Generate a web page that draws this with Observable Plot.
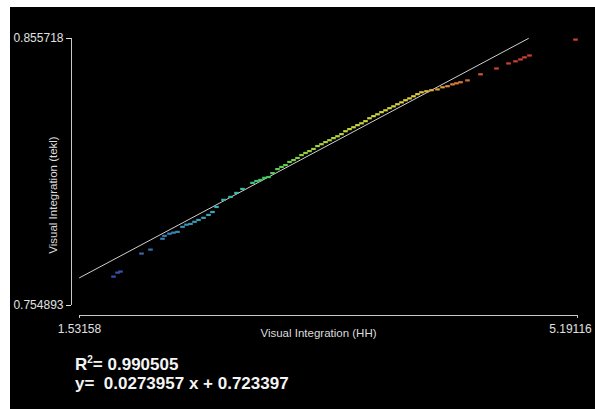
<!DOCTYPE html>
<html>
<head>
<meta charset="utf-8">
<script src="https://cdn.jsdelivr.net/npm/d3@7"></script>
<script src="https://cdn.jsdelivr.net/npm/@observablehq/plot@0.6"></script>
<style>
  html, body { margin: 0; padding: 0; background: #fff; }
  #page { position: relative; width: 595px; height: 409px; overflow: hidden; background: #fff; }
  #bg { position: absolute; left: 10px; top: 7px; right: 0; bottom: 0; background: #000; }
  #chart { position: absolute; left: 0; top: 0; }
  .eq { position: absolute; left: 75px; font-family: "Liberation Sans", Arial, sans-serif; font-size: 17px; line-height: 17px; color: #f4f4f4; font-weight: bold; white-space: pre; }
  .eq sup { font-size: 10px; vertical-align: 0; position: relative; top: -7px; }
</style>
</head>
<body>
<div id="page">
  <div id="bg"></div>
  <div id="chart"></div>
  <div class="eq" id="eq1" style="top:355.6px"></div>
  <div class="eq" id="eq2" style="top:375px"></div>
</div>
<script>
// ---- data ----
const xLabel = "Visual Integration (HH)";
const yLabel = "Visual Integration (tekl)";
const xTicks = [1.53158, 5.19116];
const yTicks = [0.754893, 0.855718];
const slope = 0.0273957;
const intercept = 0.723397;
const r2 = 0.990505;

const xs = [1.7814, 1.8108, 1.8329, 1.9872, 2.0533, 2.1415, 2.1562, 2.1930, 2.2223, 2.2517,
            2.2885, 2.3179, 2.3473, 2.3767, 2.4061, 2.4428, 2.4795, 2.5089, 2.5383, 2.5898,
            2.6412, 2.6853, 2.7294, 2.8029, 2.8323, 2.8617, 2.8911, 2.9205, 2.9498, 2.9866,
            3.0160, 3.0454, 3.0748, 3.1042, 3.1336, 3.1630, 3.1923, 3.2217, 3.2511, 3.2805,
            3.3099, 3.3393, 3.3687, 3.3981, 3.4275, 3.4569, 3.4863, 3.5157, 3.5451, 3.5745,
            3.6039, 3.6332, 3.6626, 3.6920, 3.7214, 3.7508, 3.7802, 3.8096, 3.8390, 3.8684,
            3.8978, 3.9272, 3.9566, 3.9860, 4.0154, 4.0448, 4.0815, 4.1183, 4.1623, 4.1991,
            4.2358, 4.2726, 4.3020, 4.3314, 4.3828, 4.4783, 4.5959, 4.6841, 4.7355, 4.7723,
            4.8017, 4.8384, 5.1764];
const ys = [0.7658, 0.7673, 0.7677, 0.7745, 0.7760, 0.7801, 0.7812, 0.7820, 0.7824, 0.7827,
            0.7846, 0.7854, 0.7857, 0.7865, 0.7872, 0.7880, 0.7891, 0.7902, 0.7921, 0.7948,
            0.7959, 0.7974, 0.7989, 0.8012, 0.8019, 0.8023, 0.8031, 0.8034, 0.8049, 0.8064,
            0.8072, 0.8079, 0.8091, 0.8098, 0.8106, 0.8117, 0.8125, 0.8132, 0.8140, 0.8151,
            0.8158, 0.8166, 0.8173, 0.8181, 0.8188, 0.8196, 0.8207, 0.8215, 0.8222, 0.8230,
            0.8237, 0.8245, 0.8256, 0.8264, 0.8271, 0.8279, 0.8286, 0.8294, 0.8301, 0.8309,
            0.8316, 0.8324, 0.8331, 0.8339, 0.8347, 0.8354, 0.8358, 0.8362, 0.8365, 0.8373,
            0.8377, 0.8384, 0.8388, 0.8392, 0.8399, 0.8422, 0.8444, 0.8463, 0.8471, 0.8478,
            0.8486, 0.8493, 0.8553];

const colorStops = [1.8, 2.3, 2.65, 2.9, 3.15, 3.5, 4.0, 4.25, 4.6];
const colorRange = ["#3550a8", "#3890b8", "#3cb8b0", "#40cc60", "#8cd040", "#c4d63c", "#e0d040", "#dc8636", "#d04030"];

// ---- derived tables ----
const points = xs.map((x, i) => ({x, y: ys[i]}));
const xMin = xTicks[0], xMax = xTicks[1], yMin = yTicks[0], yMax = yTicks[1];
const xEnd = (yMax - intercept) / slope;
const regLine = [xMin, xEnd].map(x => ({x, y: slope * x + intercept}));

// small horizontal dash symbol, like the reference's point marks
const dash = {draw(context) { context.rect(-2.3, -1.1, 4.6, 2.2); }};

const chart = Plot.plot({
  width: 595,
  height: 345,
  marginLeft: 79,
  marginRight: 18,
  marginTop: 38,
  marginBottom: 40,
  style: {background: "transparent", color: "#dcdcdc", fontFamily: "'Liberation Sans', Arial, sans-serif", fontSize: "12px"},
  x: {domain: [xMin, xMax]},
  y: {domain: [yMin, yMax]},
  color: {type: "linear", domain: colorStops, range: colorRange, clamp: true},
  marks: [
    Plot.ruleX([xMin], {y1: yMin, y2: yMax, dx: -8, stroke: "#c8c8c8", strokeWidth: 1}),
    Plot.ruleY([yMin], {x1: xMin, x2: xMax, dy: 10, stroke: "#c8c8c8", strokeWidth: 1}),
    Plot.axisY({ticks: yTicks, tickFormat: d => `${d}`, tickSize: 5, tickPadding: 3, dx: -8, label: null, color: "#e0e0e0", fontSize: 12}),
    Plot.axisX({ticks: xTicks, tickFormat: () => "", tickSize: 3, dy: 10, label: null, color: "#c8c8c8"}),
    Plot.axisX({ticks: [xTicks[0]], tickFormat: d => `${d}`, tickSize: 0, tickPadding: 9, dy: 10, label: null, color: "#e0e0e0", fontSize: 12}),
    Plot.axisX({ticks: [xTicks[1]], tickFormat: d => `${d}`, tickSize: 0, tickPadding: 9, dy: 10, dx: -7, label: null, color: "#e0e0e0", fontSize: 12}),
    Plot.text([yLabel], {text: d => d, frameAnchor: "left", textAnchor: "middle", lineAnchor: "middle", rotate: -90, dx: -26, dy: 23, fill: "#dcdcdc", fontSize: 11.5}),
    Plot.text([xLabel], {text: d => d, frameAnchor: "bottom", textAnchor: "middle", lineAnchor: "middle", dx: -10, dy: 28, fill: "#dcdcdc", fontSize: 11.5}),
    Plot.line(regLine, {x: "x", y: "y", stroke: "#d0d0d0", strokeWidth: 1}),
    Plot.dot(points, {x: "x", y: "y", fill: "x", symbol: dash, r: 1.5, stroke: null})
  ]
});
document.getElementById("chart").appendChild(chart);
document.getElementById("eq1").innerHTML = `R<sup>2</sup>= ${r2}`;
document.getElementById("eq2").textContent = `y=  ${slope} x + ${intercept}`;
</script>
</body>
</html>
